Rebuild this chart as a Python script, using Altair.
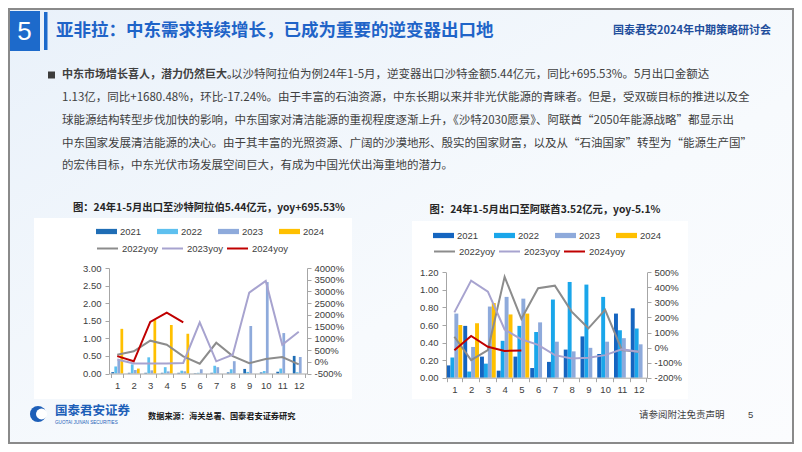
import altair as alt
import pandas as pd

# ---------------- data ----------------
months = [str(m) for m in range(1, 13)]
years = ["2021", "2022", "2023", "2024"]
yoy_names = ["2022yoy", "2023yoy", "2024yoy"]

# Saudi Arabia (亿元)
sa_2021 = [0.04, 0.02, 0.02, 0.02, 0.02, 0.01, 0.02, 0.03, 0.13, 0.03, 0.05, 0.50]
sa_2022 = [0.20, 0.26, 0.46, 0.18, 0.08, 0.02, 0.22, 0.12, 0.045, 0.07, 0.14, 0.035]
sa_2023 = [0.38, 0.10, 0.09, 0.06, 0.063, 0.12, 0.18, 0.35, 1.35, 2.60, 1.15, 0.47]
sa_2024 = [1.27, 0.14, 1.52, 1.38, 1.13]
sa_yoy22 = [300, 450, 900, 730, 230, -80, 810, 240, -60, 120, 200, -110]
sa_yoy23 = [100, -70, -70, -70, -50, 1680, 20, 300, 2950, 3450, 730, 1280]
sa_yoy24 = [240, 20, 1700, 2100, 1680]

# UAE (亿元)
ae_2021 = [0.14, 0.59, 0.24, 0.08, 0.24, 0.11, 0.18, 0.32, 0.47, 0.27, 0.73, 0.79]
ae_2022 = [0.23, 0.07, 0.16, 0.42, 0.59, 0.52, 0.89, 1.09, 1.06, 0.92, 0.54, 0.56]
ae_2023 = [0.73, 0.35, 0.81, 0.92, 0.90, 0.63, 0.41, 0.30, 0.34, 0.41, 0.45, 0.38]
ae_2024 = [0.60, 0.62, 0.85, 0.72, 0.73]
ae_yoy22 = [72, -83, -16, 470, 190, 394, 411, 239, 128, 250, -16, -27]
ae_yoy23 = [234, 445, 372, 120, 55, 18, -50, -72, -67, -50, -12, -27]
ae_yoy24 = [-18, 77, 5, -22, -20]

sa_ticks_l = [0, 0.5, 1.0, 1.5, 2.0, 2.5, 3.0]
sa_ticks_r = [-500, 0, 500, 1000, 1500, 2000, 2500, 3000, 3500, 4000]
ae_ticks_l = [0, 0.2, 0.4, 0.6, 0.8, 1.0, 1.2]
ae_ticks_r = [-200, -100, 0, 100, 200, 300, 400, 500]

title1 = "图：24年1-5月出口至沙特阿拉伯5.44亿元，yoy+695.53%"
title2 = "图：24年1-5月出口至阿联酋3.52亿元，yoy-5.1%"
slide_title = "亚非拉：中东需求持续增长，已成为重要的逆变器出口地"
header_right = "国泰君安2024年中期策略研讨会"
body_bold = "中东市场增长喜人，潜力仍然巨大。"
body_lines = [
    "以沙特阿拉伯为例24年1-5月，逆变器出口沙特金额5.44亿元，同比+695.53%。5月出口金额达",
    "1.13亿，同比+1680.48%，环比-17.24%。由于丰富的石油资源，中东长期以来并非光伏能源的青睐者。但是，受双碳目标的推进以及全",
    "球能源结构转型步伐加快的影响，中东国家对清洁能源的重视程度逐渐上升，《沙特2030愿景》、阿联酋“2050年能源战略”都显示出",
    "中东国家发展清洁能源的决心。由于其丰富的光照资源、广阔的沙漠地形、殷实的国家财富，以及从“石油国家”转型为“能源生产国”",
    "的宏伟目标，中东光伏市场发展空间巨大，有成为中国光伏出海重地的潜力。",
]


def bars_df(series):
    rows = []
    for y, vals in zip(years, series):
        for m, v in zip(months, vals):
            rows.append({"month": m, "year": y, "value": v})
    return pd.DataFrame(rows)


def lines_df(series):
    rows = []
    for n, vals in zip(yoy_names, series):
        for m, v in zip(months, vals):
            rows.append({"month": m, "series": n, "value": v})
    return pd.DataFrame(rows)


sa_bars = bars_df([sa_2021, sa_2022, sa_2023, sa_2024])
sa_lines = lines_df([sa_yoy22, sa_yoy23, sa_yoy24])
ae_bars = bars_df([ae_2021, ae_2022, ae_2023, ae_2024])
ae_lines = lines_df([ae_yoy22, ae_yoy23, ae_yoy24])

# ---------------- layout ----------------
W, H = 786, 436
O = 8  # page margin: page coordinate -> chart coordinate


def P(v):
    return v - O


CJK = "Noto Sans CJK SC"
NUM = "Liberation Sans"
dummy = alt.Data(values=[{"d": 1}])


def txt(s, x, y, size, color="#404040", weight="normal", align="left", font=CJK):
    return alt.Chart(dummy).mark_text(
        text=s, fontSize=size, color=color, fontWeight=weight, align=align,
        baseline="middle", font=font
    ).encode(x=alt.value(P(x)), y=alt.value(P(y)))


def rect(x1, y1, x2, y2, color, **kw):
    return alt.Chart(dummy).mark_rect(color=color, **kw).encode(
        x=alt.value(P(x1)), x2=alt.value(P(x2)), y=alt.value(P(y1)), y2=alt.value(P(y2))
    )


axis_style = dict(
    labelFont=NUM, labelFontSize=9.5, labelColor="#404040", domainColor="#a6a6a6",
    tickColor="#a6a6a6", tickSize=4, grid=False, title=None, zindex=1,
)


def combo(bars, lines, xr, y0, y1, ldom, lticks, lfmt, rdom, rticks, bar_colors,
          pad_inner, off_pad, leg_x, leg_y1, leg_y2):
    xs = dict(type="band", range=[P(xr[0]), P(xr[1])], paddingInner=pad_inner, paddingOuter=pad_inner / 2)
    yrange = [P(y0), P(y1)]
    bar = alt.Chart(bars).mark_bar().encode(
        x=alt.X("month:O", sort=months, scale=alt.Scale(**xs),
                axis=alt.Axis(orient="bottom", offset=P(y0) - H, labelAngle=0, tickBand="extent",
                              labelPadding=3, **axis_style)),
        xOffset=alt.XOffset("year:N", sort=years, scale=alt.Scale(paddingInner=off_pad)),
        y=alt.Y("value:Q", scale=alt.Scale(domain=ldom, range=yrange, nice=False, zero=True),
                axis=alt.Axis(orient="left", offset=-P(xr[0]), values=lticks, format=lfmt,
                              labelPadding=4, **axis_style)),
        color=alt.Color("year:N", sort=years,
                        scale=alt.Scale(domain=years, range=bar_colors),
                        legend=alt.Legend(orient="none", legendX=P(leg_x), legendY=P(leg_y1),
                                          direction="horizontal", columns=4, title=None,
                                          symbolType="M-1,-0.25H1V0.25H-1Z", symbolSize=441,
                                          symbolStrokeWidth=0, labelFont=NUM, labelFontSize=9.5,
                                          labelColor="#404040", labelOffset=3, columnPadding=15,
                                          padding=0)),
    )
    line = alt.Chart(lines).mark_line(strokeWidth=2).encode(
        x=alt.X("month:O", sort=months, scale=alt.Scale(**xs), axis=None),
        y=alt.Y("value:Q", scale=alt.Scale(domain=rdom, range=yrange, nice=False, zero=False),
                axis=alt.Axis(orient="right", offset=P(xr[1]) - W, values=rticks,
                              labelExpr="datum.value + '%'", labelPadding=3, **axis_style)),
        color=alt.Color("series:N", sort=yoy_names,
                        scale=alt.Scale(domain=yoy_names, range=["#8c8c8c", "#a7a3cf", "#c00000"]),
                        legend=alt.Legend(orient="none", legendX=P(leg_x), legendY=P(leg_y2),
                                          direction="horizontal", columns=3, title=None,
                                          symbolType="stroke", symbolSize=441, symbolStrokeWidth=2,
                                          labelFont=NUM, labelFontSize=9.5, labelColor="#404040",
                                          labelOffset=3, columnPadding=0, padding=0)),
        order=alt.Order("series:N"),
    )
    return [bar, line]


bg = alt.Chart(dummy).mark_rect(
    color=alt.LinearGradient(gradient="linear", x1=0, y1=0, x2=1, y2=1,
                             stops=[alt.GradientStop(color="#e9f1fa", offset=0),
                                    alt.GradientStop(color="#f7fafd", offset=0.6),
                                    alt.GradientStop(color="#fbfcfe", offset=1)])
).encode(x=alt.value(0), x2=alt.value(W), y=alt.value(0), y2=alt.value(H))

border = alt.Chart(dummy).mark_rect(fill=None, stroke="#8a8a8a", strokeWidth=2, fillOpacity=0).encode(
    x=alt.value(1), x2=alt.value(W - 1), y=alt.value(1), y2=alt.value(H - 1)
)

blue = "#1d6acb"
layers = [
    bg,
    rect(9, 11, 40, 51, blue),
    rect(44, 12, 47.5, 50, blue),
    txt("5", 24.5, 31.5, 26, color="white", align="center", font=NUM),
    txt(slide_title, 56, 31, 17.5, color="#1f64c8", weight="bold"),
    txt(header_right, 771, 31, 11, color="#1f4e9c", weight="bold", align="right"),
    rect(48, 71.5, 55, 78.5, "#3c3c3c"),
    txt(body_bold, 62, 75, 11, color="#404040", weight="bold"),
    txt(body_lines[0], 231, 75, 11.5),
    txt(body_lines[1], 62, 98, 11.5),
    txt(body_lines[2], 62, 121, 11.5),
    txt(body_lines[3], 62, 144, 11.5),
    txt(body_lines[4], 62, 166, 11.5),
    rect(34, 218, 352, 399, "#ffffff"),
    rect(412, 221, 688, 399, "#ffffff"),
    txt(title1, 209, 208, 10.3, color="#262626", weight="bold", align="center"),
    txt(title2, 545, 210, 10.3, color="#262626", weight="bold", align="center"),
]

layers += combo(sa_bars, sa_lines, (109, 307), 373.5, 268, [0, 3], sa_ticks_l, ".2f",
                [-500, 4000], sa_ticks_r,
                ["#1f6db5", "#5ec0ef", "#8eaadb", "#ffc000"], 0.28, 0.1, 96, 221, 237)
layers += combo(ae_bars, ae_lines, (446, 647), 377.7, 272.3, [0, 1.2], ae_ticks_l, ".2f",
                [-200, 500], ae_ticks_r,
                ["#1565c0", "#1aa6ea", "#8eaadb", "#ffc000"], 0.06, 0.0, 433, 225, 240)

# footer
layers += [
    alt.Chart(dummy).mark_circle(size=260, color="#1d5fb8", opacity=1).encode(
        x=alt.value(P(38)), y=alt.value(P(414))),
    alt.Chart(dummy).mark_circle(size=120, color="#ffffff", opacity=1).encode(
        x=alt.value(P(41.5)), y=alt.value(P(414))),
    txt("国泰君安证券", 55, 411, 12.5, color="#1d5fb8", weight="bold"),
    txt("GUOTAI JUNAN SECURITIES", 55, 422.5, 4.6, color="#1d5fb8", font=NUM),
    txt("数据来源：海关总署、国泰君安证券研究", 148, 417, 8.2, color="#1a1a1a", weight="bold"),
    txt("请参阅附注免责声明", 639, 415, 9.5, color="#404040"),
    txt("5", 748, 415, 9.5, color="#404040", font=NUM),
    border,
]

chart = alt.layer(*layers).resolve_scale(
    x="independent", y="independent", color="independent", xOffset="independent"
).properties(
    width=W, height=H, padding=0, autosize=alt.AutoSizeParams(type="none")
).configure_view(stroke=None)

chart.save("out.html", embed_options={"renderer": "svg", "actions": False})
